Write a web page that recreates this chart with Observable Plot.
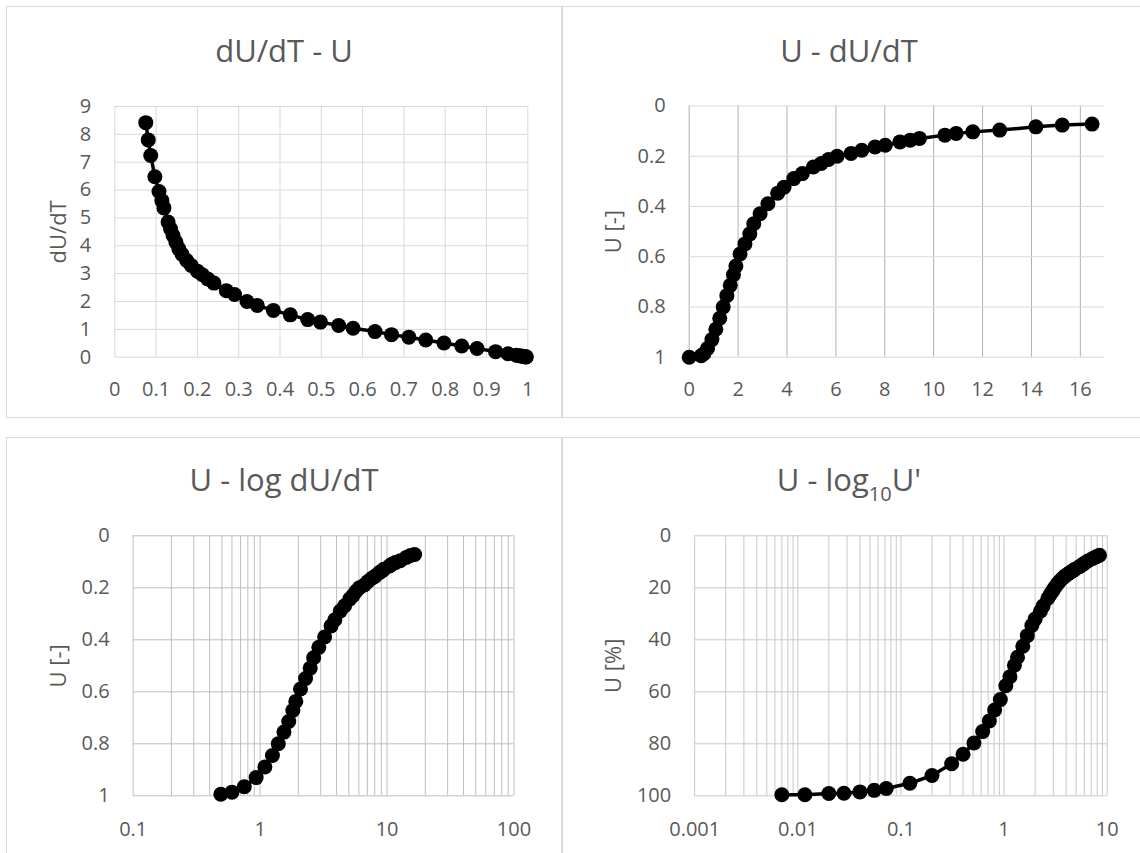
<!DOCTYPE html>
<html><head><meta charset="utf-8">
<script src="https://cdn.jsdelivr.net/npm/d3@7"></script>
<script src="https://cdn.jsdelivr.net/npm/@observablehq/plot@0.6"></script>
<style>
body{margin:0;background:#fff;font-family:"Open Sans",sans-serif;}
#page{position:relative;width:1140px;height:853px;overflow:hidden;background:#fff;}
.panel{position:absolute;box-sizing:border-box;border:1.5px solid #d9d9d9;}
.title{position:absolute;text-align:center;font-size:31px;line-height:31px;color:#595959;white-space:nowrap;font-family:"Open Sans",sans-serif;}
.sub{font-size:20px;position:relative;top:10px;}
.wrap{position:absolute;}
.wrap svg{display:block;}
</style></head><body><div id="page"></div>
<script>
// Dataset A: degree of consolidation U [-] and dU/dT (top-left, bottom-right)
const rateU = [0.075,0.081,0.087,0.097,0.107,0.114,0.119,0.129,0.135,0.141,0.148,0.155,0.163,0.174,0.185,0.200,0.212,0.225,0.240,0.270,0.290,0.320,0.345,0.384,0.425,0.467,0.498,0.542,0.577,0.630,0.670,0.712,0.753,0.797,0.840,0.877,0.922,0.952,0.972,0.979,0.985,0.990,0.991,0.996,0.996];
const rateDU = [8.42,7.80,7.24,6.48,5.95,5.62,5.36,4.85,4.61,4.37,4.13,3.89,3.69,3.47,3.29,3.09,2.96,2.81,2.66,2.39,2.25,2.00,1.86,1.68,1.52,1.35,1.26,1.14,1.04,0.92,0.81,0.72,0.62,0.51,0.40,0.31,0.20,0.122,0.072,0.055,0.04,0.028,0.02,0.0117,0.007];
// Dataset B: U [-] and dU/dT (top-right, bottom-left)
const slopeDU = [0,0.49,0.6,0.75,0.93,1.09,1.25,1.39,1.54,1.68,1.81,1.91,2.08,2.28,2.48,2.64,2.9,3.22,3.62,3.88,4.28,4.63,5.08,5.4,5.7,6.05,6.62,7.06,7.6,8.02,8.62,9.04,9.42,10.46,10.92,11.6,12.7,14.18,15.26,16.48];
const slopeU = [1.0,0.994,0.986,0.965,0.93,0.889,0.845,0.8,0.755,0.714,0.672,0.637,0.589,0.549,0.509,0.469,0.429,0.389,0.347,0.323,0.289,0.269,0.243,0.229,0.213,0.2,0.189,0.176,0.163,0.156,0.143,0.136,0.129,0.116,0.109,0.103,0.096,0.083,0.076,0.072];

// Tick labels
const tlXTicks = [0,0.1,0.2,0.3,0.4,0.5,0.6,0.7,0.8,0.9,1];
const tlYTicks = [0,1,2,3,4,5,6,7,8,9];
const trXTicks = [0,2,4,6,8,10,12,14,16];
const uTicks = [0,0.2,0.4,0.6,0.8,1];
const blXTicks = [0.1,1,10,100];
const brXTicks = [0.001,0.01,0.1,1,10];
const brYTicks = [0,20,40,60,80,100];

const titles = ["dU/dT - U","U - dU/dT","U - log dU/dT",["U - log","10","U'"]];
const yLabels = ["dU/dT","U [-]","U [-]","U [%]"];

const TEXT = "#595959";
const page = document.getElementById("page");

function logGrid(lo, hi) {
  const out = [];
  for (let e = Math.round(Math.log10(lo)); e < Math.round(Math.log10(hi)); e++)
    for (let k = 1; k < 10; k++) out.push(k * Math.pow(10, e));
  out.push(hi);
  return out;
}

function panel(o) {
  const [bx0, by0, bx1, by1] = o.box;
  const [px0, py0, px1, py1] = o.area;
  const border = document.createElement("div");
  border.className = "panel";
  border.style.left = bx0 + "px"; border.style.top = by0 + "px";
  border.style.width = (o.borderRight - bx0) + "px"; border.style.height = (o.borderBottom - by0) + "px";
  page.appendChild(border);

  const width = bx1 - bx0, height = by1 - by0;
  const chart = Plot.plot({
    width, height,
    marginLeft: px0 - bx0, marginTop: py0 - by0, marginRight: bx1 - px1, marginBottom: by1 - py1,
    x: o.x, y: o.y,
    style: {background: "transparent", color: TEXT, fontFamily: "Open Sans", fontSize: "20px", overflow: "visible"},
    marks: [
      Plot.ruleX(o.xGrid, {stroke: o.xGridColor, strokeWidth: 1}),
      Plot.ruleY(o.yGrid, {stroke: o.yGridColor, strokeWidth: 1}),
      Plot.axisX({ticks: o.xTicks, tickSize: 0, tickPadding: o.xPad, tickFormat: d => String(d), label: null, fontSize: 20, fill: TEXT}),
      Plot.axisY({ticks: o.yTicks, tickSize: 0, tickPadding: 23.5, tickFormat: d => String(d), label: null, fontSize: 20, fill: TEXT}),
      Plot.line(o.data, {x: "x", y: "y", stroke: "black", strokeWidth: 3.5}),
      Plot.dot(o.data, {x: "x", y: "y", r: 7.5, fill: "black"}),
      Plot.text([o.yLabel], {frameAnchor: "left", dx: o.labelDx, rotate: -90, fontSize: 22, fill: TEXT, textAnchor: "middle", lineAnchor: "middle"})
    ]
  });
  const wrap = document.createElement("div");
  wrap.className = "wrap";
  wrap.style.left = bx0 + "px"; wrap.style.top = by0 + "px";
  wrap.style.width = width + "px"; wrap.style.height = height + "px";
  wrap.appendChild(chart);
  page.appendChild(wrap);

  const t = document.createElement("div");
  t.className = "title";
  t.style.left = bx0 + "px"; t.style.width = (bx1 - bx0) + "px";
  t.style.top = o.titleTop + "px";
  if (Array.isArray(o.title)) {
    t.append(o.title[0]);
    const s = document.createElement("span"); s.className = "sub"; s.textContent = o.title[1];
    t.appendChild(s);
    t.append(o.title[2]);
  } else t.textContent = o.title;
  page.appendChild(t);
}

const dataA = rateU.map((u, i) => ({x: u, y: rateDU[i]}));
const dataB = slopeU.map((u, i) => ({x: slopeDU[i], y: u}));
const dataBlog = dataB.filter(d => d.x > 0);
const dataAlog = rateU.map((u, i) => ({x: rateDU[i], y: u * 100}));

panel({
  box: [6, 6, 562, 418], borderRight: 562, borderBottom: 418, area: [114.3, 106, 527.3, 356.7],
  x: {type: "linear", domain: [0, 1]}, y: {type: "linear", domain: [0, 9]},
  xTicks: tlXTicks, yTicks: tlYTicks, xGrid: tlXTicks, yGrid: tlYTicks,
  xGridColor: "#d9d9d9", yGridColor: "#d9d9d9", xPad: 25,
  data: dataA, yLabel: yLabels[0], labelDx: -56.3, title: titles[0], titleTop: 35.2
});
panel({
  box: [562, 6, 1136, 418], borderRight: 1160, borderBottom: 418, area: [688.7, 105.5, 1104.3, 356.7],
  x: {type: "linear", domain: [0, 17]}, y: {type: "linear", domain: [0, 1], reverse: true},
  xTicks: trXTicks, yTicks: uTicks, xGrid: trXTicks, yGrid: uTicks,
  xGridColor: "#b0b0b0", yGridColor: "#d9d9d9", xPad: 25,
  data: dataB, yLabel: yLabels[1], labelDx: -75.7, title: titles[1], titleTop: 35.2
});
panel({
  box: [6, 437, 562, 853], borderRight: 562, borderBottom: 880, area: [132.7, 535.3, 513.5, 795.3],
  x: {type: "log", domain: [0.1, 100]}, y: {type: "linear", domain: [0, 1], reverse: true},
  xTicks: blXTicks, yTicks: uTicks, xGrid: logGrid(0.1, 100), yGrid: uTicks,
  xGridColor: "#bfbfbf", yGridColor: "#bfbfbf", xPad: 26,
  data: dataBlog, yLabel: yLabels[2], labelDx: -74.7, title: titles[2], titleTop: 464.2
});
panel({
  box: [562, 437, 1136, 853], borderRight: 1160, borderBottom: 880, area: [694.2, 535.3, 1106.7, 795.3],
  x: {type: "log", domain: [0.001, 10]}, y: {type: "linear", domain: [0, 100], reverse: true},
  xTicks: brXTicks, yTicks: brYTicks, xGrid: logGrid(0.001, 10), yGrid: brYTicks,
  xGridColor: "#c8c8c8", yGridColor: "#c8c8c8", xPad: 26,
  data: dataAlog, yLabel: yLabels[3], labelDx: -81.2, title: titles[3], titleTop: 464.2
});
</script>
</body></html>
